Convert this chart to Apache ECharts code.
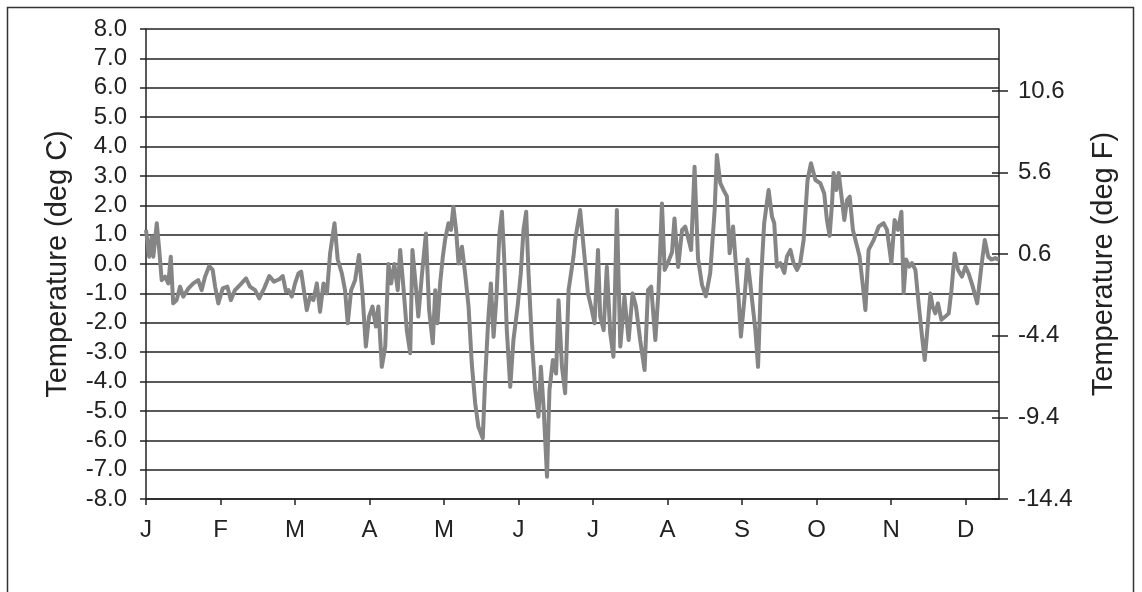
<!DOCTYPE html>
<html>
<head>
<meta charset="utf-8">
<script src="https://cdn.jsdelivr.net/npm/echarts@6/dist/echarts.min.js"></script>
<style>
html,body{margin:0;padding:0;background:#fff;}
#chart{width:1142px;height:592px;}
</style>
</head>
<body>
<div id="chart"></div>
<script>
// Month labels (axis starts at beginning of January)
var monthLabels = ['J','F','M','A','M','J','J','A','S','O','N','D'];
var monthTickDays = [0,30.4,60.8,91.2,121.6,152,182.4,212.8,243.2,273.6,304,334.4];
// Left axis (deg C) ticks
var cTicks = [-8,-7,-6,-5,-4,-3,-2,-1,0,1,2,3,4,5,6,7,8];
// Right axis (deg F difference) tick labels
var fTicks = [-14.4,-9.4,-4.4,0.6,5.6,10.6];

// Day of year (from Jan 1) for each reading
var days = [0,1.3,2.3,3.0,4.4,5.4,6.4,7.8,9.1,10.1,11.1,12.5,13.9,15.2,17.3,19.3,21.3,22.7,24.1,25.8,27.2,28.2,29.5,31.3,33.2,34.6,36.3,38.4,40.8,42.4,44.5,46.2,48.2,50.3,52.2,54.4,55.8,57.1,
58.1,59.5,60.8,62.2,63.3,64.2,65.6,66.9,68.3,69.7,71.0,72.4,73.8,75.1,76.9,78.2,79.9,81.2,82.3,83.7,85.3,86.9,88.3,89.7,91.0,92.4,93.8,94.8,96.2,97.6,98.9,100.0,101.3,102.7,103.7,105.0,106.4,107.8,108.7,110.1,111.1,112.5,114.2,115.5,
117.0,118.0,118.9,120.0,121.1,122.0,123.4,124.4,125.4,126.5,127.5,128.9,130.2,131.6,132.9,134.3,135.6,137.4,138.4,139.7,140.7,141.8,142.9,144.2,145.2,146.1,147.2,148.6,149.9,151.6,152.9,154.0,155.1,156.0,157.4,158.8,160.1,161.1,162.2,163.6,164.6,166.0,167.3,168.3,169.7,171.0,172.4,174.4,
175.1,177.1,178.9,180.3,181.9,183.0,184.4,185.3,186.7,188.0,189.4,190.7,192.1,193.5,195.2,196.9,198.5,199.9,201.6,203.4,204.8,206.1,207.8,209.1,210.5,
211.6,213.2,214.6,215.6,217.1,218.7,220.0,221.3,222.4,223.8,225.2,226.8,228.4,230.2,232.0,232.9,234.3,235.6,237.0,
238.1,239.5,240.4,241.8,242.7,244.1,245.4,246.8,248.6,249.7,250.9,252.2,254.0,255.4,256.3,257.4,258.8,260.4,261.5,262.9,264.2,265.6,266.9,268.3,269.9,271.3,273.1,275.1,276.7,277.8,278.9,279.9,280.5,281.6,282.6,283.6,284.9,286.0,287.1,288.4,290.1,291.1,292.5,293.5,
294.8,296.9,298.9,300.9,302.3,304.1,305.4,306.8,308.2,309.1,310.1,311.4,312.5,313.9,315.2,316.6,317.7,319.1,320.0,320.9,322.0,323.1,324.5,326.1,327.5,328.6,329.9,331.3,332.9,334.3,335.6,337.3,339.1,340.8,342.2,343.6,344.9,346.5,347.9];

// Temperature anomaly (deg C) for each reading
var tempC = [1.16,0.25,0.93,0.25,1.39,0.48,-0.55,-0.43,-0.66,0.25,-1.34,-1.23,-0.77,-1.11,-0.83,-0.66,-0.55,-0.89,-0.43,-0.07,-0.2,-0.77,-1.34,-0.83,-0.77,-1.23,-0.89,-0.71,-0.49,-0.77,-0.89,-1.17,-0.83,-0.41,-0.6,-0.52,-0.41,-0.94,
-0.89,-1.11,-0.66,-0.32,-0.26,-0.77,-1.57,-1.11,-1.23,-0.66,-1.63,-0.66,-1.0,0.36,1.39,0.16,-0.32,-0.89,-2.02,-0.89,-0.55,0.31,-1.0,-2.81,-1.79,-1.45,-2.13,-1.45,-3.5,-2.81,0,-0.66,0,-0.89,0.48,-0.77,-2.25,-3.04,0.48,-0.77,-1.79,-0.43,1.04,-1.57,
-2.7,-0.89,-2.02,-0.66,0.25,0.82,1.39,1.16,1.95,1.16,0.02,0.59,-0.32,-1.45,-3.38,-4.74,-5.54,-5.93,-3.84,-1.79,-0.66,-2.48,-1.23,1.04,1.78,0.25,-2.25,-4.18,-2.59,-1.45,-0.32,1.16,1.78,-0.2,-2.59,-4.29,-5.2,-3.5,-4.86,-7.24,-4.29,-3.27,-3.73,-1.23,-3.5,-4.4,-0.89,0.25,
0.82,1.84,0.25,-1.0,-1.57,-2.02,0.48,-1.79,-2.25,-0.09,-2.36,-3.16,1.84,-2.81,-1.11,-2.59,-1.0,-1.45,-2.59,-3.61,-0.89,-0.77,-2.59,-0.89,2.06,
-0.2,0.1,0.4,1.55,-0.1,1.16,1.27,0.85,0.48,3.31,0.2,-0.7,-1.1,-0.3,1.84,3.71,2.75,2.52,2.3,
0.37,1.28,0.26,-1.22,-2.47,-1.22,0.15,-0.87,-2.25,-3.5,-0.55,1.39,2.52,1.61,1.39,-0.09,0.03,-0.3,0.26,0.48,0.03,-0.2,0.03,0.82,2.86,3.43,2.86,2.75,2.4,1.5,0.96,2.1,3.1,2.52,3.1,2.4,1.5,2.18,2.29,1.16,0.6,0.26,-0.77,-1.57,
0.48,0.82,1.27,1.39,1.16,0.03,1.5,1.16,1.78,-0.99,0.15,-0.09,0.03,-0.2,-1.34,-2.47,-3.27,-1.9,-1.0,-1.45,-1.68,-1.34,-1.9,-1.79,-1.68,-0.89,0.36,-0.2,-0.43,-0.09,-0.32,-0.77,-1.34,-0.09,0.82,0.25,0.15,0.2,0.15];

var seriesData = days.map(function(d,i){ return [d, tempC[i]]; });

var FONT = '"Liberation Sans", Arial, sans-serif';
var INK = '#222';
var labelStyle = {fontFamily: FONT, fontSize: 24, color: INK};

var chart = echarts.init(document.getElementById('chart'), null, {renderer: 'canvas'});
chart.setOption({
  animation: false,
  backgroundColor: '#fff',
  grid: {left: 146, right: 143, top: 29, bottom: 93, containLabel: false},
  xAxis: {
    type: 'value', min: 0, max: 348, interval: 30.4,
    axisLine: {show: true, onZero: false, lineStyle: {color: INK, width: 1.5}},
    axisTick: {show: true, inside: false, length: 6, lineStyle: {color: INK, width: 1.5}, customValues: monthTickDays},
    axisLabel: Object.assign({margin: 19, customValues: monthTickDays, formatter: function(v){
      var idx = monthTickDays.indexOf(v);
      if (idx < 0) { idx = Math.round(v/30.4); }
      return monthLabels[idx] || '';
    }}, labelStyle),
    splitLine: {show: false}
  },
  yAxis: [
    {
      type: 'value', position: 'left', min: -8, max: 8, interval: 1,
      name: 'Temperature (deg C)', nameLocation: 'middle', nameGap: 74, nameRotate: 90,
      nameTextStyle: {fontFamily: FONT, fontSize: 29, color: INK},
      axisLine: {show: true, lineStyle: {color: INK, width: 1.5}},
      axisTick: {show: true, inside: false, length: 6, lineStyle: {color: INK, width: 1.5}},
      axisLabel: Object.assign({margin: 19, formatter: function(v){ return v.toFixed(1); }}, labelStyle),
      splitLine: {show: true, lineStyle: {color: INK, width: 1.5}}
    },
    {
      type: 'value', position: 'right', min: -14.4, max: 14.4, interval: 5,
      name: 'Temperature (deg F)', nameLocation: 'middle', nameGap: 90, nameRotate: 90,
      nameTextStyle: {fontFamily: FONT, fontSize: 29, color: INK},
      axisLine: {show: true, lineStyle: {color: INK, width: 1.5}},
      axisTick: {show: true, inside: false, length: 9, lineStyle: {color: INK, width: 1.5}, customValues: fTicks},
      axisLabel: Object.assign({margin: 19, customValues: fTicks, formatter: function(v){ return (+v).toFixed(1); }}, labelStyle),
      splitLine: {show: false}
    },
    {
      type: 'value', position: 'right', min: -14.4, max: 14.4, interval: 5,
      axisLine: {show: false},
      axisTick: {show: true, inside: true, length: 7, lineStyle: {color: INK, width: 1.5}, customValues: fTicks},
      axisLabel: {show: false},
      splitLine: {show: false}
    }
  ],
  series: [{
    type: 'line', xAxisIndex: 0, yAxisIndex: 0,
    data: seriesData,
    showSymbol: false, symbol: 'none', smooth: false,
    lineStyle: {color: '#858585', width: 4, join: 'round'},
    z: 3
  }],
  graphic: [{
    type: 'rect', silent: true, z: 0,
    shape: {x: 7.5, y: 7.5, width: 1126, height: 620},
    style: {fill: 'none', stroke: '#333', lineWidth: 1.5}
  }]
});
</script>
</body>
</html>
